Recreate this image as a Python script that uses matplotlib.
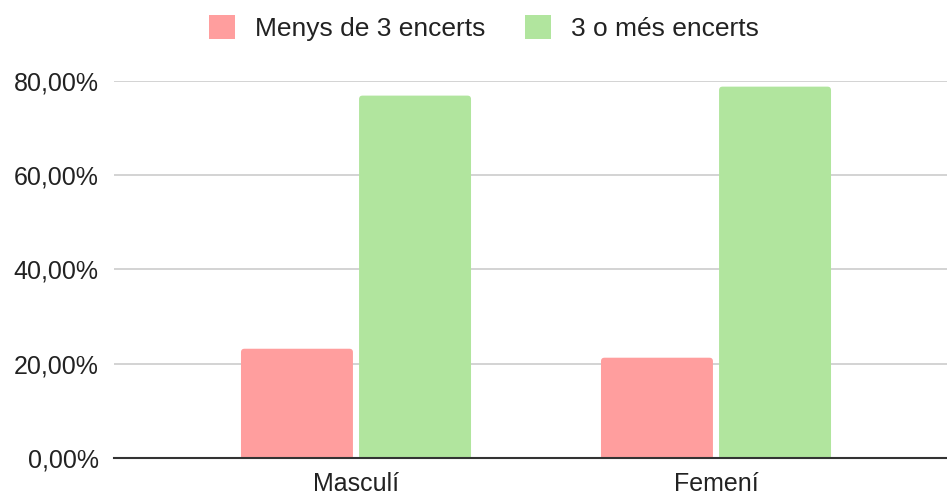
import matplotlib
matplotlib.use("Agg")
import matplotlib.pyplot as plt
from matplotlib.ticker import FuncFormatter
from matplotlib.patches import FancyBboxPatch
import numpy as np

plt.rcParams['font.family'] = ['Liberation Sans', 'DejaVu Sans']

categories = ["Masculí", "Femení"]
series_names = ["Menys de 3 encerts", "3 o més encerts"]
menys = [23.2, 21.3]
mes = [76.8, 78.7]
colors = ["#FF9E9E", "#B1E59E"]

fig = plt.figure(figsize=(9.47, 4.97), dpi=100)
ax = fig.add_axes([114/947, (497-458.3)/497, (947-114)/947, (458.3-80.5)/497])

x = np.arange(len(categories))
w = 0.311
off = 0.164
b1 = ax.bar(x - off, menys, w, color=colors[0], label=series_names[0], zorder=3)
b2 = ax.bar(x + off, mes, w, color=colors[1], label=series_names[1], zorder=3)

ax.set_xlim((114-356)/360, (947-356)/360)
ax.set_ylim(0, 80)

# rounded top corners
fig.canvas.draw()
px_x = ax.transData.transform((1, 0))[0] - ax.transData.transform((0, 0))[0]
px_y = ax.transData.transform((0, 1))[1] - ax.transData.transform((0, 0))[1]
r = 3.5 / px_x
for cont in (b1, b2):
    for bar in cont:
        bx, by = bar.get_x(), bar.get_y()
        bw, bh = bar.get_width(), bar.get_height()
        bar.set_visible(False)
        p = FancyBboxPatch((bx, by - 2), bw, bh + 2,
                           boxstyle=f"round,pad=0,rounding_size={r}",
                           mutation_aspect=px_x / px_y,
                           facecolor=bar.get_facecolor(), edgecolor='none', zorder=3)
        ax.add_patch(p)

ax.set_yticks([0, 20, 40, 60, 80])
ax.yaxis.set_major_formatter(FuncFormatter(lambda v, p: f"{v:.2f}".replace(".", ",") + "%"))
ax.set_xticks(x)
ax.set_xticklabels(categories)
ax.grid(axis='y', color='#cccccc', linewidth=1.2, zorder=0)
ax.set_axisbelow(True)
for s in ['top', 'right', 'left']:
    ax.spines[s].set_visible(False)
ax.spines['bottom'].set_color('#333333')
ax.spines['bottom'].set_linewidth(1.5)
ax.spines['bottom'].set_zorder(4)
ax.tick_params(axis='both', length=0, labelsize=18, labelcolor='#222222')
ax.tick_params(axis='y', pad=11)
ax.tick_params(axis='x', pad=10)

from matplotlib.patches import Patch
handles = [Patch(facecolor=colors[0]), Patch(facecolor=colors[1])]
fig.legend(handles=handles, labels=series_names, loc='center', bbox_to_anchor=(0.511, 0.944),
           ncol=2, frameon=False, fontsize=19, handlelength=1.0, handleheight=1.0,
           handletextpad=0.75, columnspacing=1.5, labelcolor='#222222')

fig.savefig("out.png", dpi=100)
